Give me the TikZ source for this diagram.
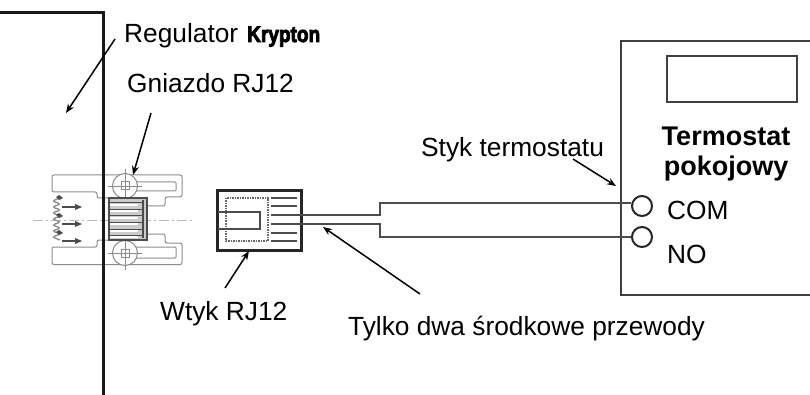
\documentclass[tikz,border=0pt]{standalone}
\usepackage{fontspec}
\usepackage{graphicx}
\setmainfont{Liberation Sans}
\newfontfamily\kryptfont[FakeBold=4]{Liberation Sans Bold}
\usetikzlibrary{arrows.meta}
\definecolor{jackgray}{gray}{0.55}
\definecolor{jackdark}{gray}{0.3}
\definecolor{wiregray}{gray}{0.3}
\tikzset{
 x=1pt,y=-1pt,
 lbl/.style={anchor=base west,inner sep=0pt,font=\fontsize{26.3}{30}\selectfont,text=black},
 blbl/.style={anchor=base,inner sep=0pt,font=\fontsize{27}{30}\selectfont\bfseries,text=black},
 arrowline/.style={draw=black,line width=1.5pt,-{Stealth[length=9pt,width=7pt]}},
 jack/.style={draw=jackgray,line width=1pt},
 jackd/.style={draw=jackdark,line width=1pt},
 wire/.style={draw=wiregray,line width=1.6pt},
 term/.style={circle,draw=black!85,line width=2pt,minimum width=20pt,inner sep=0pt},
}
\begin{document}
\begin{tikzpicture}
\useasboundingbox (0,0) rectangle (810,395);
\fill[white] (0,0) rectangle (810,395);
% jack
\draw[jackgray!60,line width=.6pt,dash pattern=on 10pt off 3pt on 2pt off 3pt] (33,220) -- (193,220);
\draw[jack,rounded corners=2pt] (109,198) -- (97,198) -- (97,192) -- (52,192) -- (52,175) -- (182,175) -- (182,197) -- (165,197) -- (165,206) -- (147,206);
\draw[jack,rounded corners=2pt] (109,240) -- (97,240) -- (97,247) -- (52,247) -- (52,264.5) -- (182,264.5) -- (182,243) -- (165,243) -- (165,234) -- (147,234);
\foreach \y/\h in {182/191,247/258}{\draw[jack,fill=white,rounded corners=1pt] (126,\y) rectangle (176,\h);}
\foreach \y in {186,253}{
 \draw[jack,fill=white] (125,\y) circle[radius=12.5];
 \draw[jack,fill=white] (121,\y-4) rectangle (129,\y+4);
 \draw[jack,line width=.5pt] (125,\y-17) -- (125,\y+17) (108,\y) -- (142,\y);
}
\draw[jackd,fill=jackgray!45,line width=1.2pt] (109,198) rectangle (147,240);
\foreach \y in {203,209.5,216,222.5,229,235.5}{
 \draw[white,line width=1.8pt] (110,\y+1.7) -- (138,\y+1.7);
 \draw[jackdark,line width=1pt] (110,\y) -- (143,\y);}
\draw[jackdark,line width=1.2pt] (143,200) -- (143,238);
\draw[jack,line width=1.3pt,rounded corners=3pt] (60,198) -- (52,201) -- (61,204) -- (52,207) -- (61,210) -- (52,213) -- (61,216) -- (52,219) -- (61,222) -- (52,225) -- (61,228) -- (52,231) -- (61,234) -- (52,237) -- (60,240);
\foreach \y in {198,216,233}{
 \fill[jackdark] (56,\y-1) -- (59,\y-3) -- (63,\y) -- (59,\y+2) -- cycle;
}
\foreach \y in {207,224,241}{
 \draw[jackd,line width=1.3pt] (62,\y) -- (78,\y);
 \fill[jackdark] (75,\y-3) -- (82,\y) -- (75,\y+3) -- cycle;
}
% wall
\draw[draw=black!90,line width=3pt] (0,13) -- (103,13) -- (103,395);
% plug
\node[draw=black!85,line width=3pt,minimum width=84pt,minimum height=59pt,inner sep=0pt] (plug) at (259,220.5) {};
\draw[black!60,line width=1.5pt,densely dotted] (226,198) rectangle (268,241);
\draw[wiregray,line width=1.6pt] (218,212) -- (260,212) -- (260,229) -- (218,229);
\foreach \y in {198,206,233,241}{\draw[wiregray,line width=1.6pt] (271,\y) -- (297,\y);}
\draw[wiregray,line width=1.6pt] (271,215) -- (297,215) (271,224) -- (297,224);
% thermostat
\node[term] (com) at (642,206) {};
\node[term] (no) at (642,237) {};
\draw[draw=black!75,line width=1.5pt] (810,41) -- (621,41) -- (621,295) -- (810,295);
\node[draw=black!75,line width=1.5pt,minimum width=130pt,minimum height=46pt,inner sep=0pt] (display) at (732,79) {};
% wires
\coordinate (wa) at (297,215);
\coordinate (wb) at (297,224);
\draw[wire] (wa) -- (380,215) -- (380,203) -- (com.west|-0,203);
\draw[wire] (wb) -- (380,224) -- (380,237) -- (no.west);
% labels
\node[lbl] (reg) at (124,43) {Regulator};
\node[anchor=base west,inner sep=0pt,text=black] (kr) at (247,42) {\resizebox{73pt}{15.5pt}{\kryptfont\fontsize{20}{24}\selectfont Krypton}};
\node[lbl] (gniazdo) at (127,93) {Gniazdo RJ12};
\node[lbl] (styk) at (421,157) {Styk termostatu};
\node[blbl] (t1) at (726,146) {Termostat};
\node[blbl] (t2) at (726,176) {pokojowy};
\node[lbl] (comt) at (667,220) {COM};
\node[lbl] (not) at (667,263) {NO};
\node[lbl] (wtyk) at (160,320) {Wtyk RJ12};
\node[lbl] (tylko) at (348,335) {Tylko dwa środkowe przewody};
% arrows
\coordinate (a1s) at (115,39); \coordinate (a1e) at (66,113);
\coordinate (a2s) at (151,113); \coordinate (a2e) at (133,175);
\coordinate (a3s) at (225,288); \coordinate (a3e) at (249,251);
\coordinate (a4s) at (420,294); \coordinate (a4e) at (323,227);
\coordinate (a5s) at (573,159); \coordinate (a5e) at (616,186);
\draw[arrowline] (a1s) -- (a1e);
\draw[arrowline] (a2s) -- (a2e);
\draw[arrowline] (a3s) -- (a3e);
\draw[arrowline] (a4s) -- (a4e);
\draw[arrowline] (a5s) -- (a5e);
\end{tikzpicture}
\end{document}
